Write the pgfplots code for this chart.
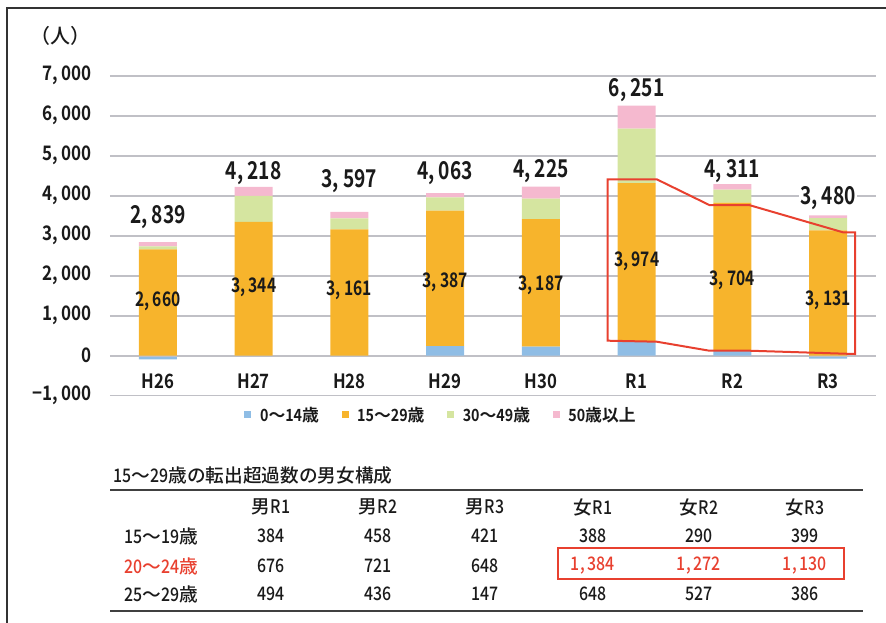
\documentclass[border=0pt]{standalone}
\usepackage{fontspec}
\setmainfont{Noto Sans CJK JP}[FakeStretch=0.85, UprightFont=* Medium, BoldFont=* Bold]
\newfontfamily\jp{Noto Sans CJK JP}[UprightFont=* Medium, BoldFont=* Bold]
\newfontfamily\cond{Noto Sans CJK JP}[FakeStretch=0.78, UprightFont=* Medium, BoldFont=* Bold]
\newcommand\J[1]{{\jp #1}}
\usepackage{pgfplots}
\pgfplotsset{compat=1.18}
\usepackage{pgfplotstable}
\definecolor{cblue}{HTML}{8FBDE5}
\definecolor{corange}{HTML}{F7B42C}
\definecolor{cgreen}{HTML}{D5E5A0}
\definecolor{cpink}{HTML}{F5B9CF}
\definecolor{cred}{HTML}{E8402F}
\definecolor{cgrid}{HTML}{C0C0C6}
\definecolor{ctext}{HTML}{1A1A1A}
\newcommand\myfs[1]{\fontsize{#1}{#1}\selectfont}
\pgfplotsset{samebox/.style={at={(82.5pt,-296.775pt)}, anchor=south west, scale only axis,
  width=574.5pt, height=240pt,
  xmin=-0.5, xmax=7.5, ymin=-1000, ymax=7000, enlargelimits=false}}
\pgfplotstableread{
x blue orange green pink
0 0   2660 75   104
1 0   3344 650  224
2 0   3161 270  166
3 240 3387 330  106
4 225 3187 513  300
5 342 3974 1360 575
6 120 3704 330  157
7 0   3131 310  65
}\stackdata
\pgfplotstableread{
x neg
0 -90
7 -75
}\negdata
\begin{document}
\begin{tikzpicture}
\path[use as bounding box] (0,0) rectangle (664.5pt,-467.25pt);
% negative part of 0-14 (drawn below zero)
\begin{axis}[samebox, hide axis, ybar, bar width=28.5pt, bar shift=0pt]
\addplot[fill=cblue, draw=none] table[x=x, y=neg] {\negdata};
\end{axis}
\begin{axis}[samebox,
  ybar stacked, bar width=28.5pt,
  axis line style={draw=none},
  major tick length=0pt,
  xtick={0,...,7}, xticklabels={H26,H27,H28,H29,H30,R1,R2,R3},
  ytick={-1000,0,1000,2000,3000,4000,5000,6000,7000},
  yticklabels={{−1,\,000},0,{1,\,000},{2,\,000},{3,\,000},{4,\,000},{5,\,000},{6,\,000},{7,\,000}},
  ymajorgrids, grid style={cgrid, line width=1.2pt},
  x tick label style={font=\myfs{14.8}\bfseries, text=ctext, yshift=20pt},
  y tick label style={font=\myfs{15}\bfseries, text=ctext, xshift=-10.5pt},
  legend style={at={(0.17,-0.06)}, anchor=west, draw=none, fill=none,
    legend columns=4, font=\myfs{12.6}\bfseries, text=ctext,
    /tikz/every odd column/.append style={column sep=4.5pt},
    /tikz/every even column/.append style={column sep=15pt}},
  legend image code/.code={\fill[#1] (0pt,-2.6pt) rectangle (5.2pt,2.6pt);},
]
\addplot[fill=cblue, draw=none] table[x=x, y=blue] {\stackdata};
\addplot[fill=corange, draw=none] table[x=x, y=orange] {\stackdata};
\addplot[fill=cgreen, draw=none] table[x=x, y=green] {\stackdata};
\addplot[fill=cpink, draw=none] table[x=x, y=pink] {\stackdata};
\legend{0\J{～}14\J{歳},15\J{～}29\J{歳},30\J{～}49\J{歳},50\J{歳以上}}
\end{axis}
% labels and outline on top of the bars
\begin{axis}[samebox, hide axis, clip=false]
% totals
\begin{scope}[every node/.style={font=\myfs{18.4}\cond\bfseries, text=ctext, fill=white, inner sep=1pt}]
\node at (axis cs:0,3455) {2,\,839};
\node at (axis cs:1,4568) {4,\,218};
\node at (axis cs:2,4372) {3,\,597};
\node at (axis cs:3,4560) {4,\,063};
\node at (axis cs:4,4610) {4,\,225};
\node at (axis cs:5,6635) {6,\,251};
\node at (axis cs:6,4622) {4,\,311};
\node at (axis cs:7,3948) {3,\,480};
\end{scope}
% 15-29 values
\begin{scope}[every node/.style={font=\myfs{15}\cond\bfseries, text=ctext}]
\node at (axis cs:0,1350) {2,\,660};
\node at (axis cs:1,1717) {3,\,344};
\node at (axis cs:2,1642) {3,\,161};
\node at (axis cs:3,1830) {3,\,387};
\node at (axis cs:4,1767) {3,\,187};
\node at (axis cs:5,2350) {3,\,974};
\node at (axis cs:6,1892) {3,\,704};
\node at (axis cs:7,1392) {3,\,131};
\end{scope}
\draw[cred, line width=1.5pt, line join=miter]
  (axis cs:4.698,4410) -- (axis cs:5.21,4410) -- (axis cs:5.759,3767)
  -- (axis cs:6.174,3767) -- (axis cs:7.155,3085) -- (axis cs:7.281,3085)
  -- (axis cs:7.281,42) -- (axis cs:6.174,125) -- (axis cs:5.759,125)
  -- (axis cs:5.21,350) -- (axis cs:4.698,375) -- cycle;
\end{axis}
\begin{scope}[x=0.75pt, y=-0.75pt]
\draw[line width=1.5pt, black!80] (7,640) -- (7,8) -- (900,8);
\node[font=\myfs{15}\jp, text=ctext] at (61,36) {（人）};
% table
\node[anchor=west, font=\myfs{14}, text=ctext] at (109,475) {15\J{～}29\J{歳の転出超過数の男女構成}};
\draw[line width=1.3pt, black!75] (110,490) -- (863,490);
\draw[line width=1.3pt, black!75] (110,611) -- (863,611);
\begin{scope}[every node/.style={font=\myfs{14}, text=ctext}]
\node at (271,507) {\J{男}R1};
\node at (378,507) {\J{男}R2};
\node at (485,507) {\J{男}R3};
\node at (593,507) {\J{女}R1};
\node at (699,507) {\J{女}R2};
\node at (805,507) {\J{女}R3};
\node[anchor=west] at (120,536) {15\J{～}19\J{歳}};
\node[anchor=west, text=cred] at (120,566) {20\J{～}24\J{歳}};
\node[anchor=west] at (120,594) {25\J{～}29\J{歳}};
\node at (271,536) {384}; \node at (378,536) {458}; \node at (485,536) {421};
\node at (593,536) {388}; \node at (699,536) {290}; \node at (805,536) {399};
\node at (271,566) {676}; \node at (378,566) {721}; \node at (485,566) {648};
\node[text=cred] at (593,566) {1,\,384}; \node[text=cred] at (699,566) {1,\,272}; \node[text=cred] at (805,566) {1,\,130};
\node at (271,594) {494}; \node at (378,594) {436}; \node at (485,594) {147};
\node at (593,594) {648}; \node at (699,594) {527}; \node at (805,594) {386};
\end{scope}
\draw[cred, line width=1.5pt] (557.7,547.7) rectangle (844.3,579.3);
\end{scope}
\end{tikzpicture}
\end{document}
